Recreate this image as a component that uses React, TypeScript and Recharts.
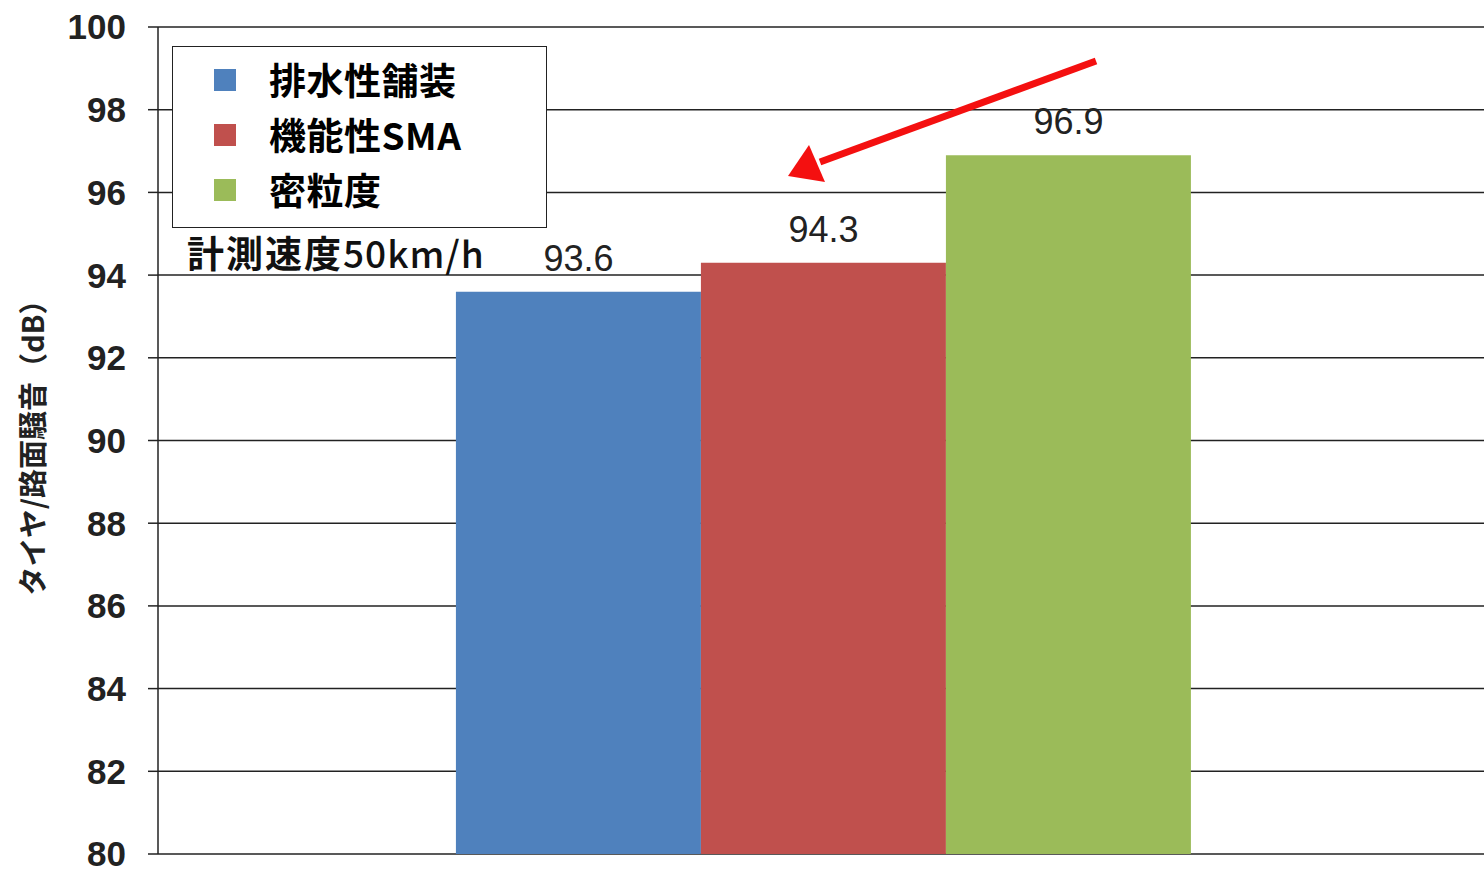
import { Bar, BarChart, CartesianGrid, LabelList, XAxis, YAxis } from "recharts";

// 舗装種別ごとのタイヤ/路面騒音 (dB)
const pavements = ["排水性舗装", "機能性SMA", "密粒度"];
const noiseDb = [93.6, 94.3, 96.9];
const barColors = ["#4f81bd", "#c0504d", "#9bbb59"];
const yTicks = [80, 82, 84, 86, 88, 90, 92, 94, 96, 98, 100];
const speedNote = ["計測速度", "50km/h"];

const keys = pavements.map((_, i) => `s${i}`);
const data = [
  Object.fromEntries([["name", speedNote.join("")], ...keys.map((k, i) => [k, noiseDb[i]])]),
];

const CJK = '"Noto Sans CJK JP", sans-serif';
const NUM = '"Liberation Sans", Arial, sans-serif';

function LegendBox() {
  return (
    <div style={{ position: "absolute", left: 172, top: 46 }}>
      <div
        style={{
          width: 375,
          height: 182,
          border: "1.5px solid #222",
          background: "#fff",
          boxSizing: "border-box",
          paddingTop: 5,
        }}
      >
        {pavements.map((name, i) => (
          <div key={name} style={{ display: "flex", alignItems: "center", height: 55 }}>
            <span
              style={{ width: 22, height: 22, background: barColors[i], marginLeft: 41, marginRight: 33 }}
            />
            <span
              style={{
                fontFamily: CJK,
                fontWeight: 700,
                fontSize: 37,
                color: "#000",
                lineHeight: 1,
                letterSpacing: 0.5,
              }}
            >
              {name}
            </span>
          </div>
        ))}
      </div>
      <div
        style={{
          marginTop: 2,
          marginLeft: 15,
          fontSize: 37,
          color: "#111",
          whiteSpace: "nowrap",
          lineHeight: "44px",
        }}
      >
        <span style={{ fontFamily: CJK, fontWeight: 700, letterSpacing: 2 }}>{speedNote[0]}</span>
        <span style={{ fontFamily: CJK, fontWeight: 500, letterSpacing: 1 }}>{speedNote[1]}</span>
      </div>
    </div>
  );
}

export default function App() {
  return (
    <div
      style={{
        position: "fixed",
        left: 0,
        top: 0,
        width: 1484,
        height: 873,
        overflow: "hidden",
        background: "#fff",
      }}
    >
      <BarChart
        width={1488}
        height={873}
        data={data}
        margin={{ top: 27, right: 0, bottom: 19, left: 0 }}
        barCategoryGap="22.4%"
        barGap={0}
      >
        <CartesianGrid horizontal vertical={false} stroke="#222" strokeWidth={1.5} />
        <XAxis dataKey="name" hide />
        <YAxis
          domain={[80, 100]}
          ticks={yTicks}
          interval={0}
          width={158}
          tickSize={10}
          tickMargin={22}
          axisLine={{ stroke: "#222", strokeWidth: 1.5 }}
          tickLine={{ stroke: "#222", strokeWidth: 1.5 }}
          tick={{ fill: "#222", fontSize: 35, fontWeight: 700, fontFamily: NUM }}
          label={{
            value: "タイヤ/路面騒音（dB）",
            angle: -90,
            position: "insideLeft",
            offset: 34,
            style: { fontFamily: CJK, fontSize: 29, fontWeight: 700, fill: "#222", textAnchor: "middle" },
          }}
        />
        {keys.map((k, i) => (
          <Bar key={k} dataKey={k} name={pavements[i]} fill={barColors[i]} isAnimationActive={false}>
            <LabelList
              dataKey={k}
              position="top"
              offset={21}
              style={{ fontSize: 36, fontFamily: NUM, fill: "#222" }}
            />
          </Bar>
        ))}
      </BarChart>
      <LegendBox />
      {/* 注目箇所を示す赤矢印 */}
      <svg
        width={1484}
        height={873}
        style={{ position: "absolute", left: 0, top: 0, pointerEvents: "none" }}
      >
        <line x1={1096} y1={61} x2={820} y2={162} stroke="#f41010" strokeWidth={7} />
        <polygon points="788,176 809,145 825,182" fill="#f41010" />
      </svg>
    </div>
  );
}
